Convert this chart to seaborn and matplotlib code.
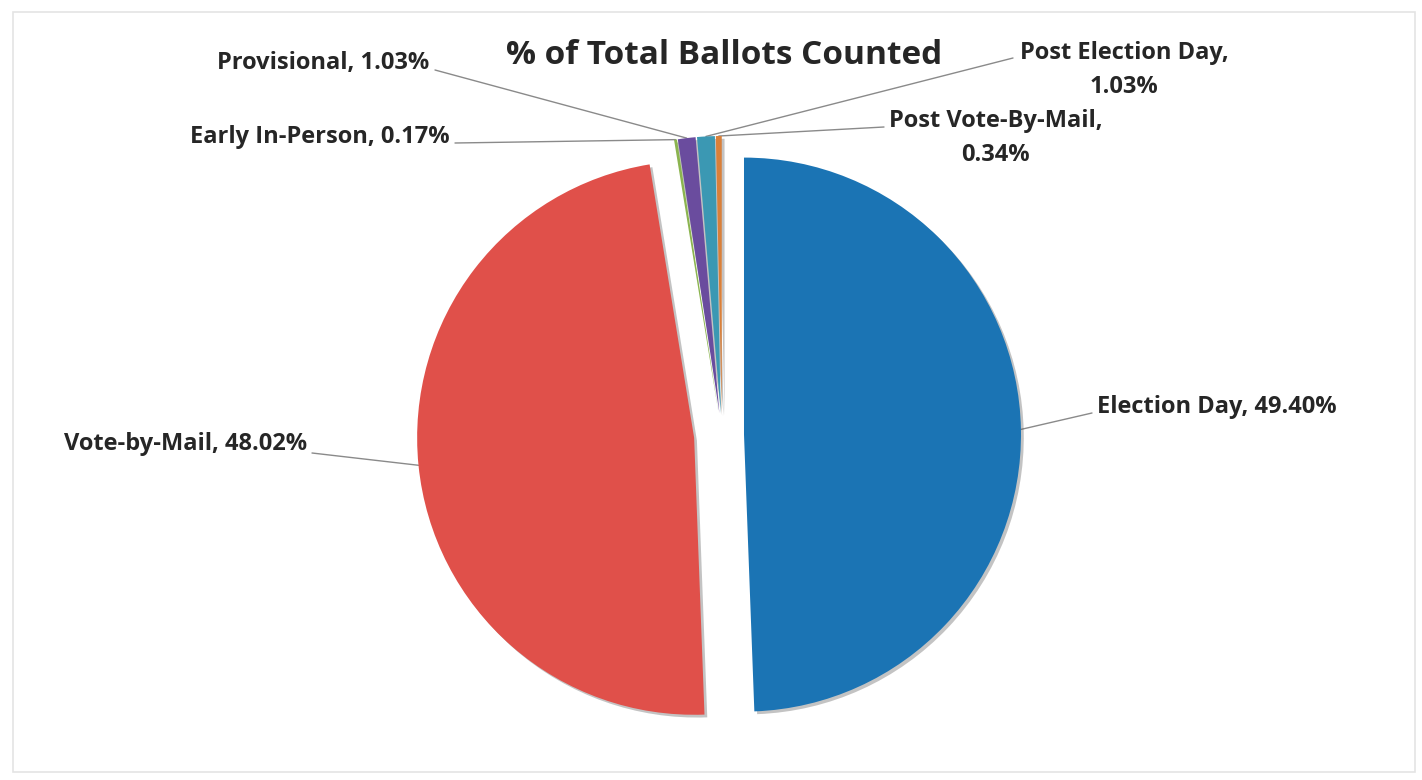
import numpy as np
import matplotlib
matplotlib.use("Agg")
import matplotlib.pyplot as plt
import matplotlib.patheffects as pe
from matplotlib.patches import Rectangle
import seaborn as sns

# ---- data ----
categories = ["Election Day", "Vote-by-Mail", "Early In-Person", "Provisional",
              "Post Election Day", "Post Vote-By-Mail"]
values = [49.40, 48.02, 0.17, 1.03, 1.03, 0.34]
label_texts = ["Election Day, 49.40%", "Vote-by-Mail, 48.02%", "Early In-Person, 0.17%",
               "Provisional, 1.03%", "Post Election Day,\n1.03%", "Post Vote-By-Mail,\n0.34%"]
title = "% of Total Ballots Counted"

# ---- style ----
sns.set_theme(style="white")
plt.rcParams['font.family'] = ['Open Sans', 'DejaVu Sans']
colors = ["#1B74B4", "#E0504A", "#8BB44F", "#6A4C9E", "#3B98B3", "#D9803A"]

W, H = 1422, 780
fig = plt.figure(figsize=(W / 100, H / 100), dpi=100)
ax = fig.add_axes([0, 0, 1, 1])

def py(y):
    return H - y

cx, cy, R = 722, py(435), 277
explode = [22, 28, 22, 22, 22, 22]  # offsets in pixels (data units)
wedges, _ = ax.pie(values, colors=colors, startangle=90, counterclock=False,
                   explode=explode, center=(cx, cy), radius=R, frame=True,
                   wedgeprops=dict(lw=0))
for w in wedges:
    w.set_path_effects([pe.SimplePatchShadow(offset=(2, -2), alpha=0.35, shadow_rgbFace="#555555"),
                        pe.Normal()])
ax.set_xlim(0, W)
ax.set_ylim(0, H)
ax.set_aspect("equal")
ax.axis("off")

# faint border of the chart area
ax.add_patch(Rectangle((13, py(772)), 1402, 760, fill=False, ec="#e4e4e4", lw=1.2))

def edge_point(w, frac=0.5):
    t = np.deg2rad(w.theta1 + (w.theta2 - w.theta1) * frac)
    c = w.center
    return c[0] + w.r * np.cos(t), c[1] + w.r * np.sin(t)

txt_kw = dict(fontsize=17, fontweight="bold", color="#262626")
# (text x, text y, ha, va, line start x, line start y)
layout = [
    (1097, 407, "left", "center", 1092, 413),
    (307, 444, "right", "center", 312, 453),
    (450, 137, "right", "center", 455, 143),
    (429, 63, "right", "center", 435, 70),
    (1020, 41, "left", "top", 1013, 58),
    (889, 109, "left", "top", 884, 127),
]
for w, lab, (tx, ty, ha, va, lx, ly) in zip(wedges, label_texts, layout):
    ax.text(tx, py(ty), lab, ha=ha, va=va, multialignment="center",
            linespacing=1.55, **txt_kw)
    ex, ey = edge_point(w)
    ax.plot([lx, ex], [py(ly), ey], color="#8a8a8a", lw=1.0, zorder=0.5)

ax.text(724, py(55), title, ha="center", va="center", fontsize=24, fontweight="bold",
        color="#262626")

fig.savefig("out.png", dpi=100, facecolor="white")
